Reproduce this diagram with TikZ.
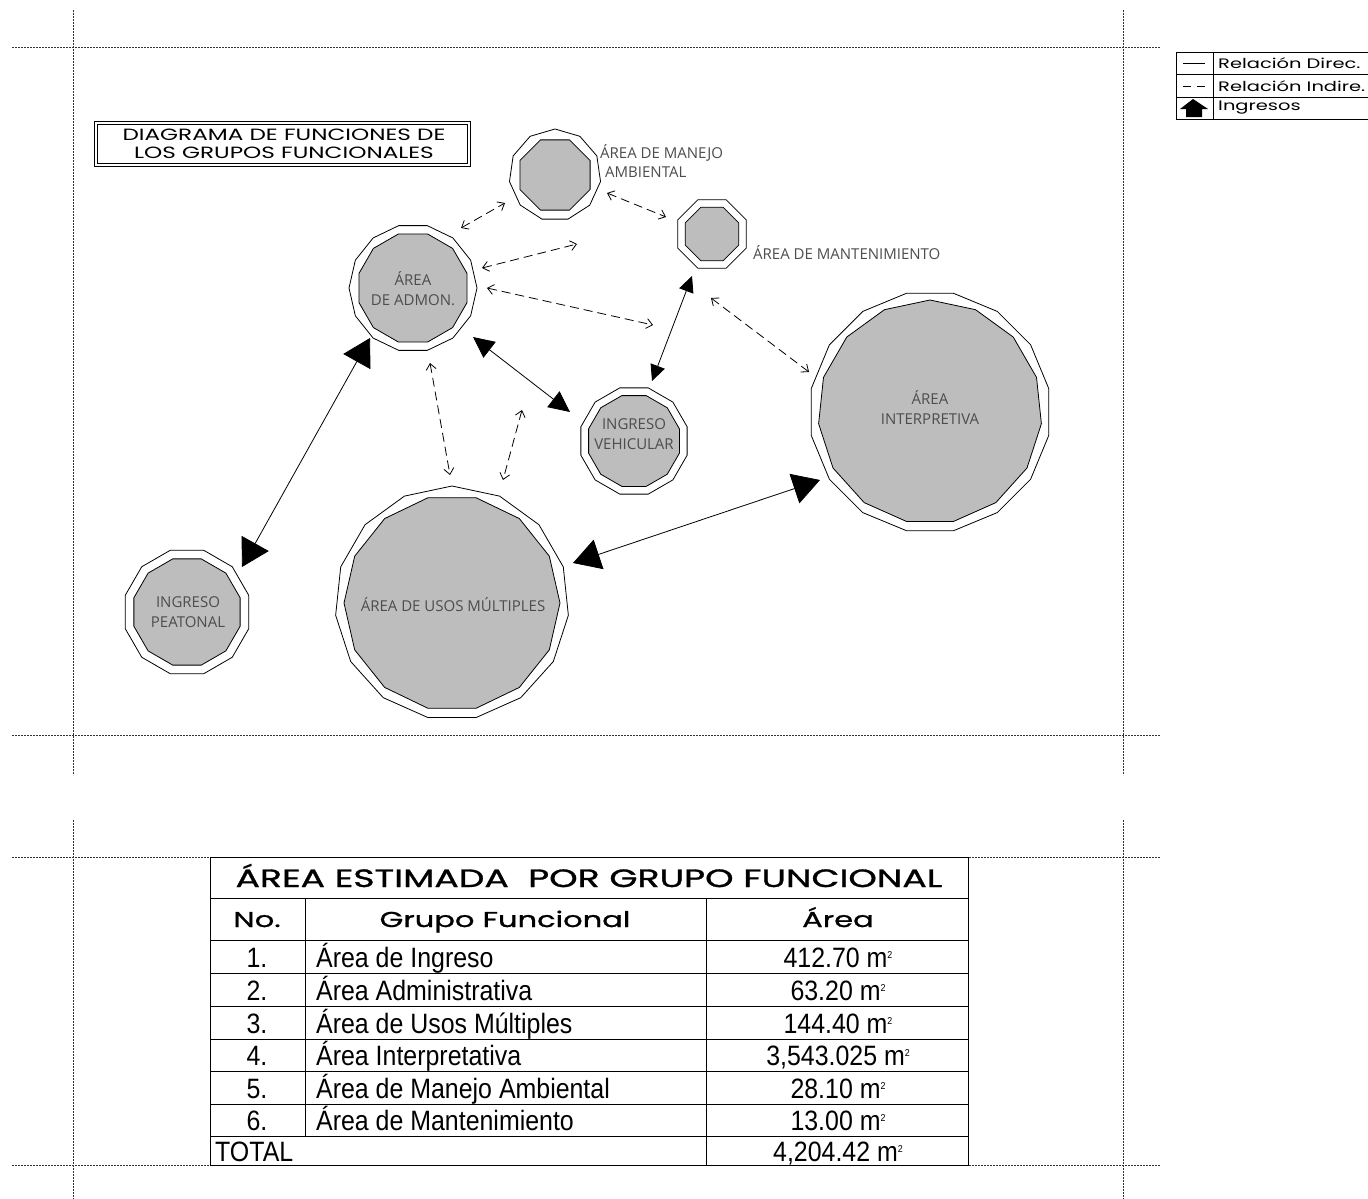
\documentclass[tikz,border=0pt]{standalone}
\usepackage{fontspec}
\setmainfont{Open Sans}
\newfontfamily\extfont[FakeStretch=1.42]{Poppins}
\newfontfamily\extbold[FakeStretch=1.45,FakeBold=1.2]{Poppins}
\newfontfamily\extmed[FakeStretch=1.42,FakeBold=1]{Poppins}
\newfontfamily\condfont[FakeStretch=0.89]{Liberation Sans}
\newfontfamily\labfont{Open Sans}
\newcommand\sqm{m\raisebox{9pt}{\fontsize{10}{10}\selectfont 2}}
\usetikzlibrary{arrows.meta,shapes.geometric}
\definecolor{polyfill}{HTML}{BDBDBD}
\definecolor{labgray}{HTML}{4D4D4D}
\definecolor{guide}{HTML}{333333}
\tikzset{
  guideline/.style={draw=guide,line width=1pt,dash pattern=on 2pt off 1pt},
  outerpoly/.style={regular polygon,draw=black,line width=0.8pt,fill=white,inner sep=0pt,outer sep=0pt},
  innerpoly/.style={regular polygon,draw=black,line width=0.8pt,fill=polyfill,inner sep=0pt,outer sep=0pt},
  lab/.style={font=\labfont\fontsize{15}{20}\selectfont,text=labgray,align=center,inner sep=0pt},
  bigarrow/.style={line width=0.8pt,{Triangle[length=27pt,width=31pt]}-{Triangle[length=27pt,width=31pt]}},
  midarrow/.style={line width=0.8pt,{Triangle[length=21pt,width=20pt]}-{Triangle[length=21pt,width=20pt]}},
  smallarrow/.style={line width=0.8pt,{Triangle[length=16pt,width=15pt]}-{Triangle[length=16pt,width=15pt]}},
  indirect/.style={line width=0.8pt,dash pattern=on 9pt off 5pt,{Straight Barb[length=6pt,width=10pt]}-{Straight Barb[length=6pt,width=10pt]}},
  tabhead/.style={font=\extbold\fontsize{25}{28}\selectfont,inner sep=0pt,anchor=base},
  colhead/.style={font=\extmed\fontsize{21.5}{26}\selectfont,inner sep=0pt,anchor=base},
  cell/.style={font=\condfont\fontsize{28}{32}\selectfont,inner sep=0pt,anchor=base},
  cellw/.style={cell,anchor=base west},
  legtext/.style={font=\extfont\fontsize{13.7}{16}\selectfont,inner sep=0pt,anchor=west},
  tline/.style={line width=0.8pt},
}
\newcommand\fnode[7]{%
  \node[outerpoly,regular polygon sides=#6,minimum size=#4pt] (#1) at (#2,#3) {};
  \node[innerpoly,regular polygon sides=#7,minimum size=#5pt] (#1-in) at (#2,#3) {};
}
\begin{document}
\begin{tikzpicture}[x=1pt,y=-1pt]
\useasboundingbox (0,0) rectangle (1368,1199);
\fill[white] (0,0) rectangle (1368,1199);

% guide lines
\draw[guideline] (12,48) -- (1160,48);
\draw[guideline] (12,735) -- (1160,735);
\draw[guideline] (12,857) -- (1160,857);
\draw[guideline] (12,1165) -- (1160,1165);
\draw[guideline] (73,10) -- (73,775);
\draw[guideline] (1123,10) -- (1123,775);
\draw[guideline] (73,820) -- (73,1199);
\draw[guideline] (1123,820) -- (1123,1199);

% legend
\draw[tline] (1368,52) -- (1176,52) -- (1176,119) -- (1368,119);
\draw[tline] (1176,74) -- (1368,74);
\draw[tline] (1176,97) -- (1368,97);
\draw[tline] (1213,52) -- (1213,119);
\draw[line width=0.8pt] (1183,63) -- (1205,63);
\draw[line width=0.8pt] (1183,86) -- (1191,86) (1197,86) -- (1205,86);
\fill (1180,109) -- (1193,99) -- (1208,109) -- (1202,109) -- (1202,117) -- (1186,117) -- (1186,109) -- cycle;
\node[legtext] (lg1) at (1218,63) {Relación Direc.};
\node[legtext] (lg2) at (1218,86) {Relación Indire.};
\node[legtext] (lg3) at (1218,108) {Ingresos};

% diagram title
\draw[line width=0.8pt] (94,121) rectangle (470,166);
\draw[line width=0.8pt] (97,124) rectangle (467,163);
\node[font=\extfont\fontsize{16.3}{18.5}\selectfont,align=center,inner sep=0pt] (dtitle) at (284,144)
  {DIAGRAMA DE FUNCIONES DE\\[-1pt]LOS GRUPOS FUNCIONALES};

% functional nodes
\fnode{man}{555}{175}{92}{76}{11}{8}
\fnode{mnt}{712}{234}{74}{58}{8}{8}
\fnode{adm}{413}{288}{128}{112}{14}{12}
\fnode{veh}{634}{441}{110}{94}{12}{12}
\fnode{itp}{930}{412}{242}{224}{16}{15}
\fnode{uso}{452}{603}{234}{216}{15}{14}
\fnode{pea}{187}{612}{128}{110}{12}{12}

\node[lab,anchor=west] (manl1) at (600,153) {ÁREA DE MANEJO};
\node[lab,anchor=west] (manl2) at (605,172) {AMBIENTAL};
\node[lab,anchor=west] (mntl) at (753,253) {ÁREA DE MANTENIMIENTO};
\node[lab] (adml) at (413,289) {ÁREA\\DE ADMON.};
\node[lab] (vehl) at (634,434) {INGRESO\\VEHICULAR};
\node[lab] (itpl) at (930,408) {ÁREA\\INTERPRETIVA};
\node[lab] (usol) at (453,605) {ÁREA DE USOS MÚLTIPLES};
\node[lab] (peal) at (188,612) {INGRESO\\PEATONAL};

% connector end points
\coordinate (c1a) at (242,567); \coordinate (c1b) at (370,338);
\coordinate (c2a) at (473,337); \coordinate (c2b) at (570,412);
\coordinate (c3a) at (652,381); \coordinate (c3b) at (692,276);
\coordinate (c4a) at (573,563); \coordinate (c4b) at (820,480);
\coordinate (d1a) at (461,228); \coordinate (d1b) at (505,203);
\coordinate (d2a) at (482,268); \coordinate (d2b) at (577,244);
\coordinate (d3a) at (487,288); \coordinate (d3b) at (653,325);
\coordinate (d4a) at (607,193); \coordinate (d4b) at (666,217);
\coordinate (d5a) at (711,298); \coordinate (d5b) at (809,372);
\coordinate (d6a) at (430,363); \coordinate (d6b) at (450,475);
\coordinate (d7a) at (522,410); \coordinate (d7b) at (503,480);

\draw[bigarrow] (c1a) -- (c1b);
\draw[midarrow] (c2a) -- (c2b);
\draw[smallarrow] (c3a) -- (c3b);
\draw[bigarrow] (c4a) -- (c4b);
\draw[indirect] (d1a) -- (d1b);
\draw[indirect] (d2a) -- (d2b);
\draw[indirect] (d3a) -- (d3b);
\draw[indirect] (d4a) -- (d4b);
\draw[indirect] (d5a) -- (d5b);
\draw[indirect] (d6a) -- (d6b);
\draw[indirect] (d7a) -- (d7b);

% table
\fill[white] (210,857) rectangle (968,1165);
\draw[tline] (210,857) rectangle (968,1165);
\foreach \yy in {898,940,973,1006,1039,1071,1104,1136} \draw[tline] (210,\yy) -- (968,\yy);
\draw[tline] (305,898) -- (305,1136);
\draw[tline] (706,898) -- (706,1165);
\node[tabhead] (th) at (589,887) {ÁREA ESTIMADA\ \ POR GRUPO FUNCIONAL};
\node[colhead] (h1) at (257,927) {No.};
\node[colhead] (h2) at (505,927) {Grupo Funcional};
\node[colhead] (h3) at (838,927) {Área};
\node[cell] (n1) at (257,967) {1.};
\node[cell] (n2) at (257,1000) {2.};
\node[cell] (n3) at (257,1033) {3.};
\node[cell] (n4) at (257,1065) {4.};
\node[cell] (n5) at (257,1098) {5.};
\node[cell] (n6) at (257,1130) {6.};
\node[cellw] (g1) at (316,967) {Área de Ingreso};
\node[cellw] (g2) at (316,1000) {Área Administrativa};
\node[cellw] (g3) at (316,1033) {Área de Usos Múltiples};
\node[cellw] (g4) at (316,1065) {Área Interpretativa};
\node[cellw] (g5) at (316,1098) {Área de Manejo Ambiental};
\node[cellw] (g6) at (316,1130) {Área de Mantenimiento};
\node[cellw] (gt) at (215,1161) {TOTAL};
\node[cell] (a1) at (838,967) {412.70 \sqm};
\node[cell] (a2) at (838,1000) {63.20 \sqm};
\node[cell] (a3) at (838,1033) {144.40 \sqm};
\node[cell] (a4) at (838,1065) {3,543.025 \sqm};
\node[cell] (a5) at (838,1098) {28.10 \sqm};
\node[cell] (a6) at (838,1130) {13.00 \sqm};
\node[cell] (at) at (838,1161) {4,204.42 \sqm};
\end{tikzpicture}
\end{document}
